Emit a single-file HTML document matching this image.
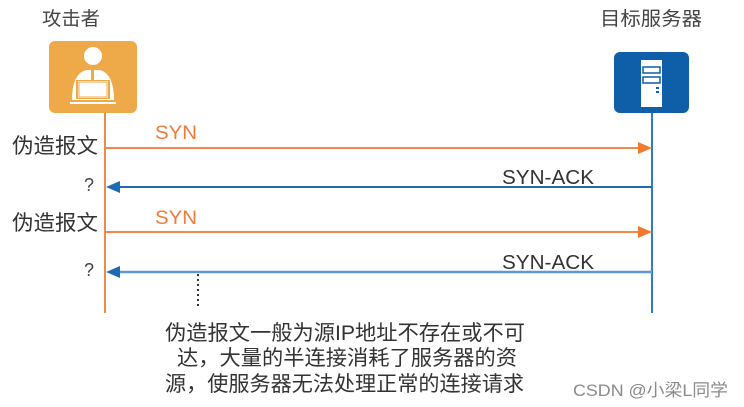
<!DOCTYPE html>
<html><head><meta charset="utf-8"><style>
html,body{margin:0;padding:0;background:#fff;}
svg{display:block;}
text{font-family:"Liberation Sans","Noto Sans CJK SC",sans-serif;}
</style></head><body>
<svg width="744" height="407" viewBox="0 0 744 407" xmlns="http://www.w3.org/2000/svg">
<text x="42" y="25" font-size="19" fill="#444" textLength="58" lengthAdjust="spacingAndGlyphs">攻击者</text>
<text x="600" y="25" font-size="19" fill="#444" textLength="102" lengthAdjust="spacingAndGlyphs">目标服务器</text>
<rect x="49" y="41" width="88" height="72" rx="6" fill="#eeaa48"/>
<circle cx="93" cy="56" r="9" fill="#fff"/>
<path d="M72 100 Q72 74 86 70 L100 70 Q114 74 114 100 Z" fill="#fff"/>
<rect x="91" y="70" width="3" height="10" fill="#eeaa48"/>
<rect x="76" y="80" width="34" height="19" fill="#eeaa48"/>
<rect x="78" y="81" width="30" height="17" fill="#fff"/>
<rect x="79" y="82" width="28" height="15" fill="none" stroke="#eeaa48" stroke-width="1"/>
<rect x="70" y="102" width="46" height="2" fill="#fff"/>
<rect x="614" y="52" width="75" height="61" rx="6" fill="#0e5fa8"/>
<rect x="641" y="60" width="21" height="47" fill="#fff"/>
<rect x="643" y="67" width="17" height="6" fill="none" stroke="#0e5fa8" stroke-width="1.5"/>
<rect x="643" y="77" width="17" height="6" fill="none" stroke="#0e5fa8" stroke-width="1.5"/>
<rect x="656" y="87" width="3" height="2" fill="#0e5fa8"/>
<rect x="656" y="91" width="3" height="2" fill="#0e5fa8"/>
<line x1="105" y1="113" x2="105" y2="313" stroke="#f08a4b" stroke-width="2"/>
<line x1="652" y1="113" x2="652" y2="313" stroke="#2f7cc4" stroke-width="2"/>
<line x1="105" y1="148" x2="640" y2="148" stroke="#f08a4b" stroke-width="2"/>
<polygon points="652,148 638,142 638,154" fill="#f07a2f"/>
<text x="155" y="139" font-size="19" fill="#f07a3a" textLength="42" lengthAdjust="spacingAndGlyphs">SYN</text>
<line x1="118" y1="187" x2="652" y2="187" stroke="#1e6bb4" stroke-width="2"/>
<polygon points="106,187 120,181 120,193" fill="#1e6bb4"/>
<text x="502" y="184" font-size="20" fill="#333" textLength="92" lengthAdjust="spacingAndGlyphs">SYN-ACK</text>
<line x1="105" y1="232" x2="640" y2="232" stroke="#f08a4b" stroke-width="2"/>
<polygon points="652,232 638,226 638,238" fill="#f07a2f"/>
<text x="155" y="224" font-size="19" fill="#f07a3a" textLength="42" lengthAdjust="spacingAndGlyphs">SYN</text>
<line x1="118" y1="272" x2="652" y2="272" stroke="#5b9bd5" stroke-width="2.5"/>
<polygon points="106,272 120,266 120,278" fill="#1e6bb4"/>
<text x="502" y="269" font-size="20" fill="#333" textLength="92" lengthAdjust="spacingAndGlyphs">SYN-ACK</text>
<text x="12" y="153" font-size="21" fill="#333" textLength="86" lengthAdjust="spacingAndGlyphs">伪造报文</text>
<text x="84" y="191" font-size="18" fill="#444">?</text>
<text x="12" y="230" font-size="21" fill="#333" textLength="86" lengthAdjust="spacingAndGlyphs">伪造报文</text>
<text x="84" y="276" font-size="18" fill="#444">?</text>
<line x1="198" y1="274" x2="198" y2="308" stroke="#333" stroke-width="2" stroke-dasharray="2,3"/>
<g font-size="21" fill="#333">
<text x="165" y="340" textLength="360" lengthAdjust="spacingAndGlyphs">伪造报文一般为源IP地址不存在或不可</text>
<text x="177" y="365" textLength="340" lengthAdjust="spacingAndGlyphs">达，大量的半连接消耗了服务器的资</text>
<text x="165" y="391" textLength="359" lengthAdjust="spacingAndGlyphs">源，使服务器无法处理正常的连接请求</text>
</g>
<text x="573" y="396" font-size="17" fill="#8a8a8a" textLength="155" lengthAdjust="spacingAndGlyphs">CSDN @小梁L同学</text>
</svg>
</body></html>
